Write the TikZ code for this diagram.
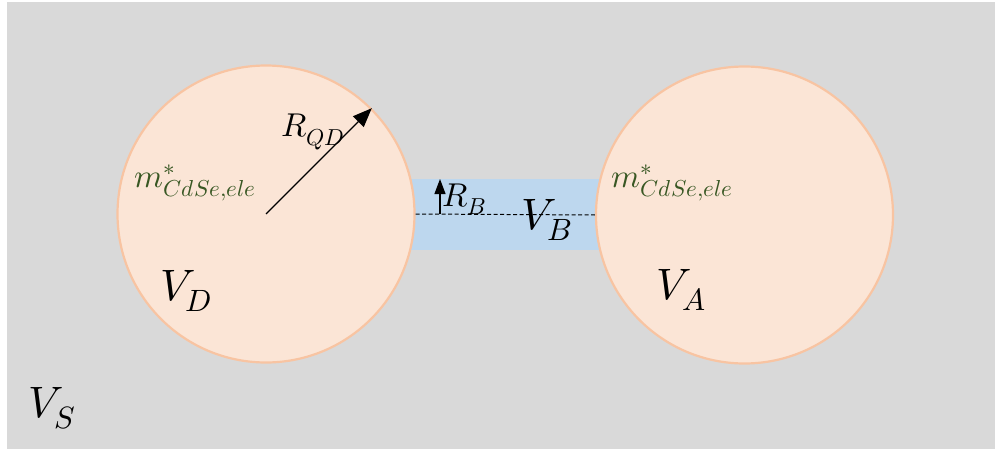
\documentclass[tikz,border=0pt]{standalone}
\usepackage{unicode-math}
\setmathfont{Latin Modern Math}
\usetikzlibrary{arrows.meta}
\definecolor{bggray}{HTML}{D9D9D9}
\definecolor{dotfill}{HTML}{FBE5D6}
\definecolor{dotline}{HTML}{F8C4A2}
\definecolor{bridge}{HTML}{BDD7EE}
\definecolor{massgreen}{HTML}{385723}
\begin{document}
\begin{tikzpicture}[x=1pt,y=-1pt,
  qdot/.style={circle,draw=dotline,fill=dotfill,line width=2.2pt,minimum size=297pt,inner sep=0pt},
  biglabel/.style={font=\fontsize{44}{50}\selectfont,inner sep=0pt},
  midlabel/.style={font=\fontsize{33}{38}\selectfont,inner sep=0pt},
  masslabel/.style={font=\fontsize{33}{38}\selectfont,text=massgreen,inner sep=0pt}]
\useasboundingbox (0,0) rectangle (997,452);
\fill[white] (0,0) rectangle (997,452);
\fill[bggray] (7,2) rectangle (995,449);
\node[fill=bridge,minimum width=190pt,minimum height=71pt,inner sep=0pt] (bridge) at (505,214) {};
\node[qdot] (D) at (266,214) {};
\node[qdot] (A) at (744.5,215) {};
\draw[dash pattern=on 4pt off 2.5pt,line width=1pt] (D.east) -- (A.west);
\coordinate (rb0) at (440,214);
\coordinate (rb1) at (440,179);
\draw[line width=1.2pt,-{Triangle[length=15pt,width=11pt]}] (rb0) -- (rb1);
\draw[line width=1.2pt,-{Triangle[length=19pt,width=15pt]}] (D.center) -- (D.45);
\node[midlabel] (rqd) at (313,132) {$R_{QD}$};
\node[midlabel] (rb) at (464,199) {$R_{B}$};
\node[masslabel] (mD) at (195,183) {$m^{*}_{CdSe,ele}$};
\node[masslabel] (mA) at (672,183) {$m^{*}_{CdSe,ele}$};
\node[biglabel] (vb) at (547,220) {$V_B$};
\node[biglabel] (vd) at (186,291) {$V_D$};
\node[biglabel] (va) at (681,290) {$V_A$};
\node[biglabel] (vs) at (52,408) {$V_S$};
\end{tikzpicture}
\end{document}
